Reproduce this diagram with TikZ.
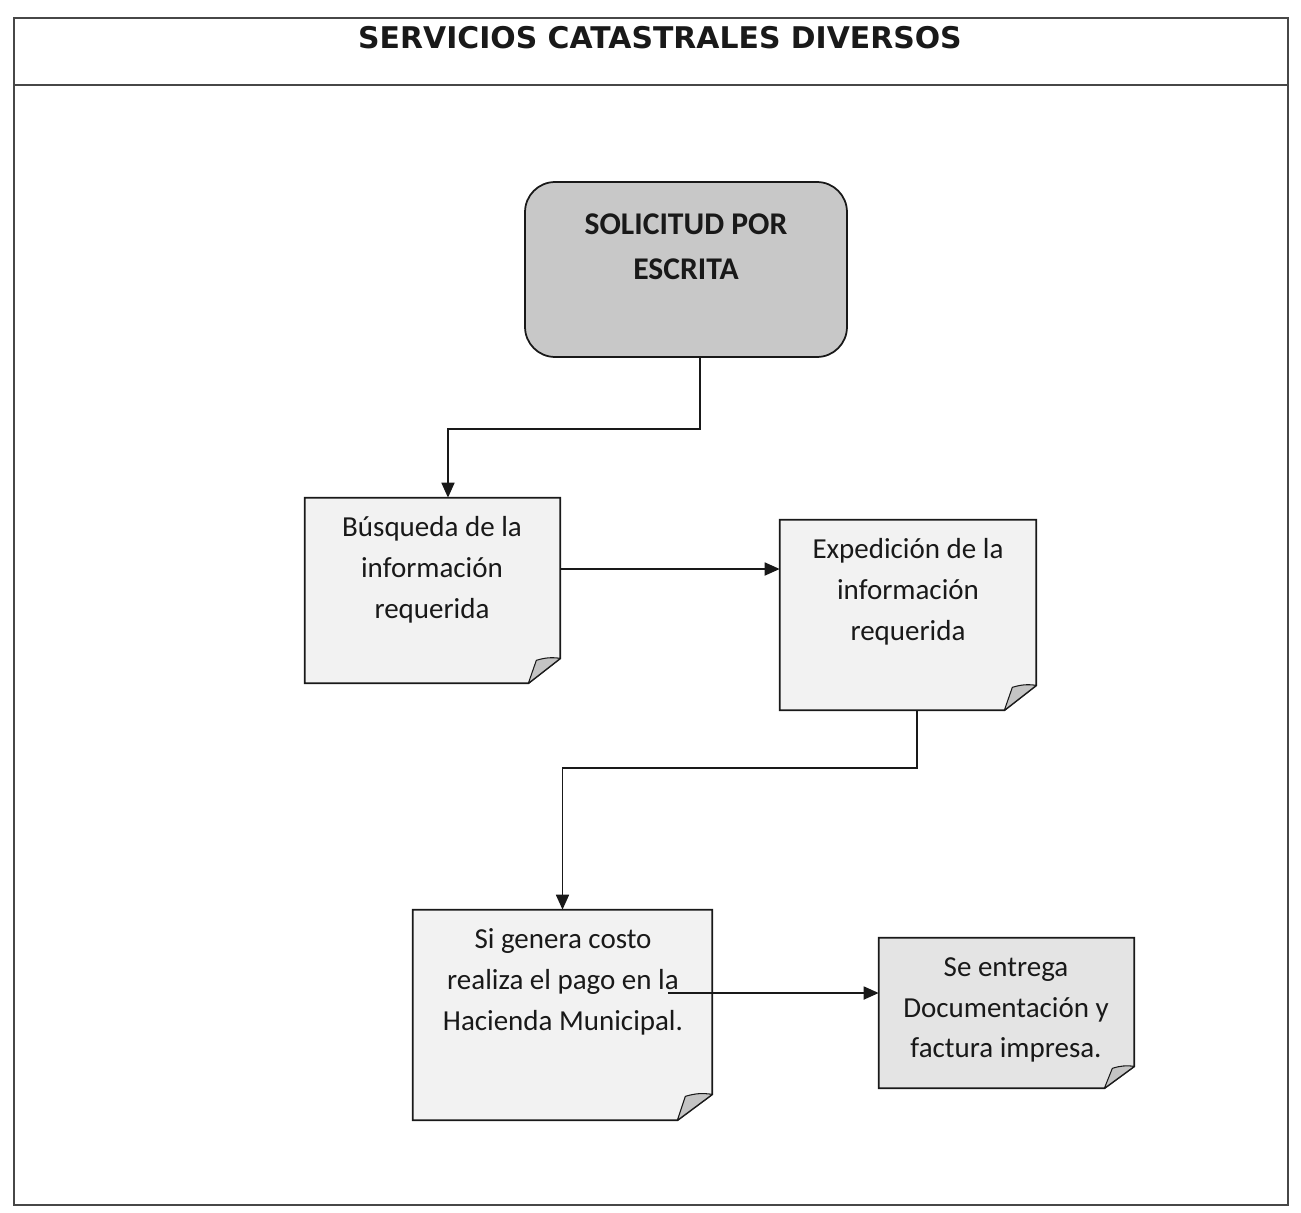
\documentclass[tikz,border=0pt]{standalone}
\usepackage{fontspec}
\setmainfont{Carlito}
\newfontfamily\titlefont{DejaVu Sans}
\usetikzlibrary{arrows.meta,calc,backgrounds}
\definecolor{solgray}{RGB}{200,200,200}
\definecolor{notefill}{RGB}{242,242,242}
\definecolor{notefillb}{RGB}{228,228,228}
\definecolor{foldgray}{RGB}{196,196,196}
\definecolor{ink}{RGB}{25,25,25}
\newcommand\notepath[4]{%
  \filldraw[fill=#2, draw=ink, line width=1pt, line join=miter]
    (#1.north west) -- (#1.north east) -- ($(#1.south east)+(0,-#4)$)
    -- ($(#1.south east)+(-#3,0)$) -- (#1.south west) -- cycle;
  \filldraw[fill=foldgray, draw=ink, line width=0.6pt, line join=round]
    ($(#1.south east)+(-#3,0)$) -- ($(#1.south east)+(-#3+8,-#4+2)$)
    to[bend left=12] ($(#1.south east)+(0,-#4)$) -- cycle;
}
\begin{document}
\begin{tikzpicture}[x=0.02cm,y=-0.02cm,
  box/.style={rectangle, draw=none, inner sep=0pt},
  txt/.style={align=center, text=ink, font=\fontsize{16.5}{23.2}\selectfont, inner sep=0pt},
  arr/.style={draw=ink, line width=1pt, -{Triangle[length=0.3cm,width=0.26cm]}},
  frame/.style={draw=ink!80, line width=0.8pt}]
\useasboundingbox (0,0) rectangle (1301,1213);
% frame
\draw[frame] (14,18) rectangle (1288,1205);
\coordinate (tl) at (14,85);
\coordinate (tr) at (1288,85);
\draw[frame] (tl) -- (tr);
\node[text=ink, inner sep=0pt] (title) at (660,38) {\titlefont\bfseries\fontsize{17}{20}\selectfont SERVICIOS CATASTRALES DIVERSOS};
% nodes
\node[box, draw=ink, line width=1pt, fill=solgray, rounded corners=0.6cm, minimum width=6.44cm, minimum height=3.5cm] (sol) at (686,269.5) {};
\node[txt, font=\bfseries\fontsize{18}{25.5}\selectfont] (solt) at (686,247) {SOLICITUD POR\\ESCRITA};
\node[box, minimum width=5.1cm, minimum height=3.7cm] (bq) at (432.5,590.5) {};
\node[txt] (bqt) at (432,570) {Búsqueda de la\\información\\requerida};
\node[box, minimum width=5.12cm, minimum height=3.8cm] (ex) at (908,615) {};
\node[txt] (ext) at (908,592) {Expedición de la\\información\\requerida};
\node[box, minimum width=5.98cm, minimum height=4.2cm] (si) at (562.5,1015) {};
\node[txt] (sit) at (563,982) {Si genera costo\\realiza el pago en la\\Hacienda Municipal.};
\node[box, minimum width=5.1cm, minimum height=3.0cm] (se) at (1006.5,1013) {};
\node[txt] (set) at (1006,1010) {Se entrega\\Documentación y\\factura impresa.};
\begin{pgfonlayer}{background}
  \notepath{bq}{notefill}{32}{25}
  \notepath{ex}{notefill}{32}{25}
  \notepath{si}{notefill}{35}{26}
  \notepath{se}{notefillb}{30}{22}
\end{pgfonlayer}
% connectors
\draw[arr] ([xshift=0.28cm]sol.south) -- ++(0,71) -| ([xshift=0.31cm]bq.north);
\coordinate (a2) at ([yshift=0.43cm]bq.east);
\draw[arr] (a2) -- (a2 -| ex.west);
\draw[arr] ([xshift=0.18cm]ex.south) -- ++(0,58) -| (si.north);
\coordinate (a4) at ([xshift=-0.88cm,yshift=0.44cm]si.east);
\draw[arr] (a4) -- (a4 -| se.west);
\end{tikzpicture}
\end{document}
